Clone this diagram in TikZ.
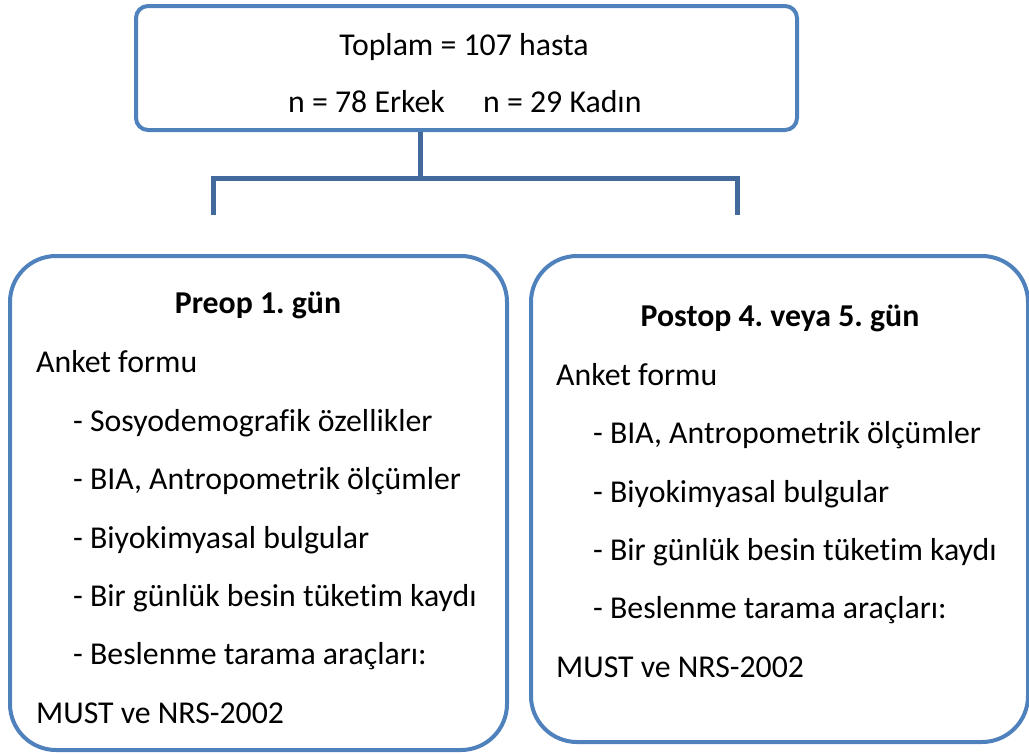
\documentclass[tikz,border=0pt]{standalone}
\usepackage{fontspec}
\setmainfont{Carlito}[Ligatures=NoCommon]
\definecolor{boxblue}{HTML}{4F81BD}
\definecolor{linkblue}{HTML}{41699C}
\frenchspacing
\begin{document}
\begin{tikzpicture}[x=1pt,y=-1pt,
  txt/.style={anchor=base west,inner sep=0pt,font=\fontsize{31.8}{38}\selectfont},
  ctxt/.style={anchor=base,inner sep=0pt,font=\fontsize{31.8}{38}\selectfont},
  htxt/.style={anchor=base,inner sep=0pt,font=\fontsize{31.8}{38}\selectfont\bfseries},
  topbox/.style={draw=boxblue,line width=4pt,rounded corners=12pt,fill=white,inner sep=0pt},
  bigbox/.style={draw=boxblue,line width=4pt,rounded corners=46pt,fill=white,inner sep=0pt},
  link/.style={draw=linkblue,line width=5pt}]
\useasboundingbox (0,0) rectangle (1029,753);
% boxes
\node[topbox,minimum width=661pt,minimum height=124pt] (top) at (466.5,68) {};
\node[bigbox,minimum width=497pt,minimum height=494pt] (left) at (258.5,503) {};
\node[bigbox,minimum width=497pt,minimum height=486pt] (right) at (779.5,499) {};
% connectors
\coordinate (j) at (420,178);
\coordinate (lj) at (213,178);
\coordinate (rj) at (737,178);
\coordinate (le) at (213,212);
\coordinate (re) at (737,212);
\draw[link] (top.south -| j) -- (j);
\draw[link,line cap=rect] (le) -- (lj) -- (rj) -- (re);
% top text
\node[ctxt] (t1) at (464,55) {Toplam = 107 hasta};
\node[txt] (t2) at (288,112) {n = 78 Erkek};
\node[txt] (t3) at (483,112) {n = 29 Kadın};
% left text
\node[htxt] (lh) at (258,313) {Preop 1. gün};
\node[txt] (l1) at (36,372) {Anket formu};
\node[txt] (l2) at (73,431) {- Sosyodemografik özellikler};
\node[txt] (l3) at (73,489) {- BIA, Antropometrik ölçümler};
\node[txt] (l4) at (73,548) {- Biyokimyasal bulgular};
\node[txt] (l5) at (73,606) {- Bir günlük besin tüketim kaydı};
\node[txt] (l6) at (73,664) {- Beslenme tarama araçları:};
\node[txt] (l7) at (36,723) {MUST ve NRS-2002};
% right text
\node[htxt] (rh) at (780,326) {Postop 4. veya 5. gün};
\node[txt] (r1) at (556,385) {Anket formu};
\node[txt] (r2) at (593,443) {- BIA, Antropometrik ölçümler};
\node[txt] (r3) at (593,502) {- Biyokimyasal bulgular};
\node[txt] (r4) at (593,560) {- Bir günlük besin tüketim kaydı};
\node[txt] (r5) at (593,618) {- Beslenme tarama araçları:};
\node[txt] (r6) at (556,677) {MUST ve NRS-2002};
\end{tikzpicture}
\end{document}
